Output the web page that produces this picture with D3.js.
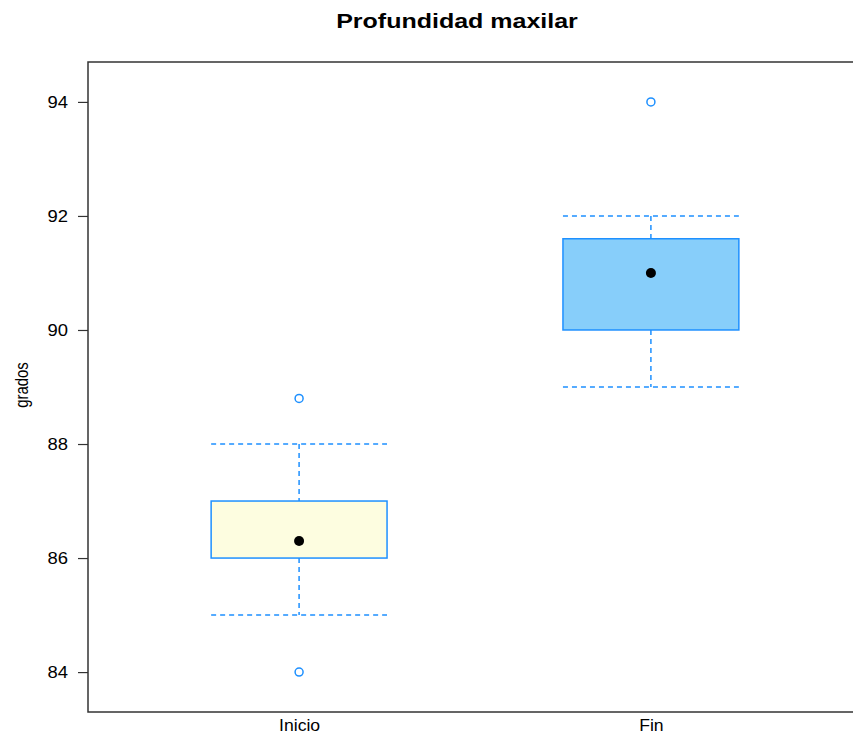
<!DOCTYPE html>
<html>
<head>
<meta charset="utf-8">
<script src="https://cdn.jsdelivr.net/npm/d3@7"></script>
<style>
  html, body { margin: 0; padding: 0; background: #fff; }
  svg { display: block; font-family: "Liberation Sans", Arial, Helvetica, sans-serif; }
</style>
</head>
<body>
<svg id="chart" width="853" height="735"></svg>
<script>
// Box-and-whisker summary per measurement stage
const categories = ["Inicio", "Fin"];
const lowerWhisker = [85, 89];
const quartile1 = [86, 90];
const medians = [86.3, 91];
const quartile3 = [87, 91.6];
const upperWhisker = [88, 92];
const outliers = [[84, 88.8], [94]];
const boxFills = ["#FDFDE0", "#87CEFA"];
const yTicks = [84, 86, 88, 90, 92, 94];

const svg = d3.select("#chart");
const panel = { left: 88, top: 62, bottom: 712 };
const stroke = "#1E90FF";

// widen glyphs along the text direction by a factor while keeping their height
function widen(sel, factor) {
  sel.each(function () {
    const w = this.getComputedTextLength();
    d3.select(this).attr("textLength", w * factor).attr("lengthAdjust", "spacingAndGlyphs");
  });
}

// categorical axis runs 0.4 .. 2.6 so each group sits at 1, 2
const x = d3.scaleLinear().domain([0.4, 2.6]).range([panel.left, panel.left + 774]);
const y = d3.scaleLinear().domain([83.3, 94.7]).range([panel.bottom, panel.top]);
const halfBox = x(1.25) - x(1);

const stats = categories.map((c, i) => ({
  name: c, pos: i + 1,
  lo: lowerWhisker[i], q1: quartile1[i], med: medians[i], q3: quartile3[i], hi: upperWhisker[i],
  out: outliers[i], fill: boxFills[i]
}));

// Title
svg.append("text")
  .attr("x", 457).attr("y", 28)
  .attr("text-anchor", "middle")
  .attr("font-size", 21).attr("font-weight", "bold")
  .text("Profundidad maxilar")
  .call(widen, 1.19);

// Y axis label
svg.append("text")
  .attr("transform", `translate(28,${(panel.top + panel.bottom) / 2 - 2}) rotate(-90)`)
  .attr("text-anchor", "middle")
  .attr("font-size", 18)
  .text("grados")
  .call(widen, 0.83);

// Left axis
const yAxis = d3.axisLeft(y).tickValues(yTicks).tickSize(10).tickPadding(10).tickFormat(d3.format("d"));
const gy = svg.append("g").attr("transform", `translate(${panel.left},0)`).call(yAxis);
gy.select(".domain").remove();
gy.selectAll("line").attr("stroke", "#333").attr("stroke-width", 1.2);
gy.selectAll("text").attr("font-size", 16).attr("fill", "#000")
  .attr("font-family", "Liberation Sans, Arial, sans-serif")
  .call(widen, 1.15);

// Bottom category labels
const xAxis = d3.axisBottom(x).tickValues(stats.map(d => d.pos)).tickSize(0).tickPadding(8)
  .tickFormat((d, i) => categories[i]);
const gx = svg.append("g").attr("transform", `translate(0,${panel.bottom})`).call(xAxis);
gx.select(".domain").remove();
gx.selectAll("text").attr("font-size", 16).attr("fill", "#000")
  .attr("font-family", "Liberation Sans, Arial, sans-serif")
  .call(widen, 1.1);

// Panel frame
svg.append("rect")
  .attr("x", panel.left).attr("y", panel.top)
  .attr("width", x(2.6) - panel.left).attr("height", panel.bottom - panel.top)
  .attr("fill", "none").attr("stroke", "#333").attr("stroke-width", 1.5);

const g = svg.append("g");
const groups = g.selectAll("g.box").data(stats).join("g").attr("class", "box");

// Whisker stems
groups.append("line")
  .attr("x1", d => x(d.pos)).attr("x2", d => x(d.pos))
  .attr("y1", d => y(d.hi)).attr("y2", d => y(d.q3))
  .attr("stroke", stroke).attr("stroke-width", 1.5).attr("stroke-dasharray", "5,4");
groups.append("line")
  .attr("x1", d => x(d.pos)).attr("x2", d => x(d.pos))
  .attr("y1", d => y(d.q1)).attr("y2", d => y(d.lo))
  .attr("stroke", stroke).attr("stroke-width", 1.5).attr("stroke-dasharray", "5,4");

// Whisker caps
["hi", "lo"].forEach(k => {
  groups.append("line")
    .attr("x1", d => x(d.pos) - halfBox).attr("x2", d => x(d.pos) + halfBox)
    .attr("y1", d => y(d[k])).attr("y2", d => y(d[k]))
    .attr("stroke", stroke).attr("stroke-width", 1.5).attr("stroke-dasharray", "5,4");
});

// Boxes
groups.append("rect")
  .attr("x", d => x(d.pos) - halfBox).attr("width", 2 * halfBox)
  .attr("y", d => y(d.q3)).attr("height", d => y(d.q1) - y(d.q3))
  .attr("fill", d => d.fill).attr("stroke", stroke).attr("stroke-width", 1.5);

// Medians
groups.append("circle")
  .attr("cx", d => x(d.pos)).attr("cy", d => y(d.med)).attr("r", 5)
  .attr("fill", "#000");

// Outliers
groups.selectAll("circle.out").data(d => d.out.map(v => ({ pos: d.pos, v }))).join("circle")
  .attr("class", "out")
  .attr("cx", d => x(d.pos)).attr("cy", d => y(d.v)).attr("r", 4)
  .attr("fill", "none").attr("stroke", stroke).attr("stroke-width", 1.5);
</script>
</body>
</html>
